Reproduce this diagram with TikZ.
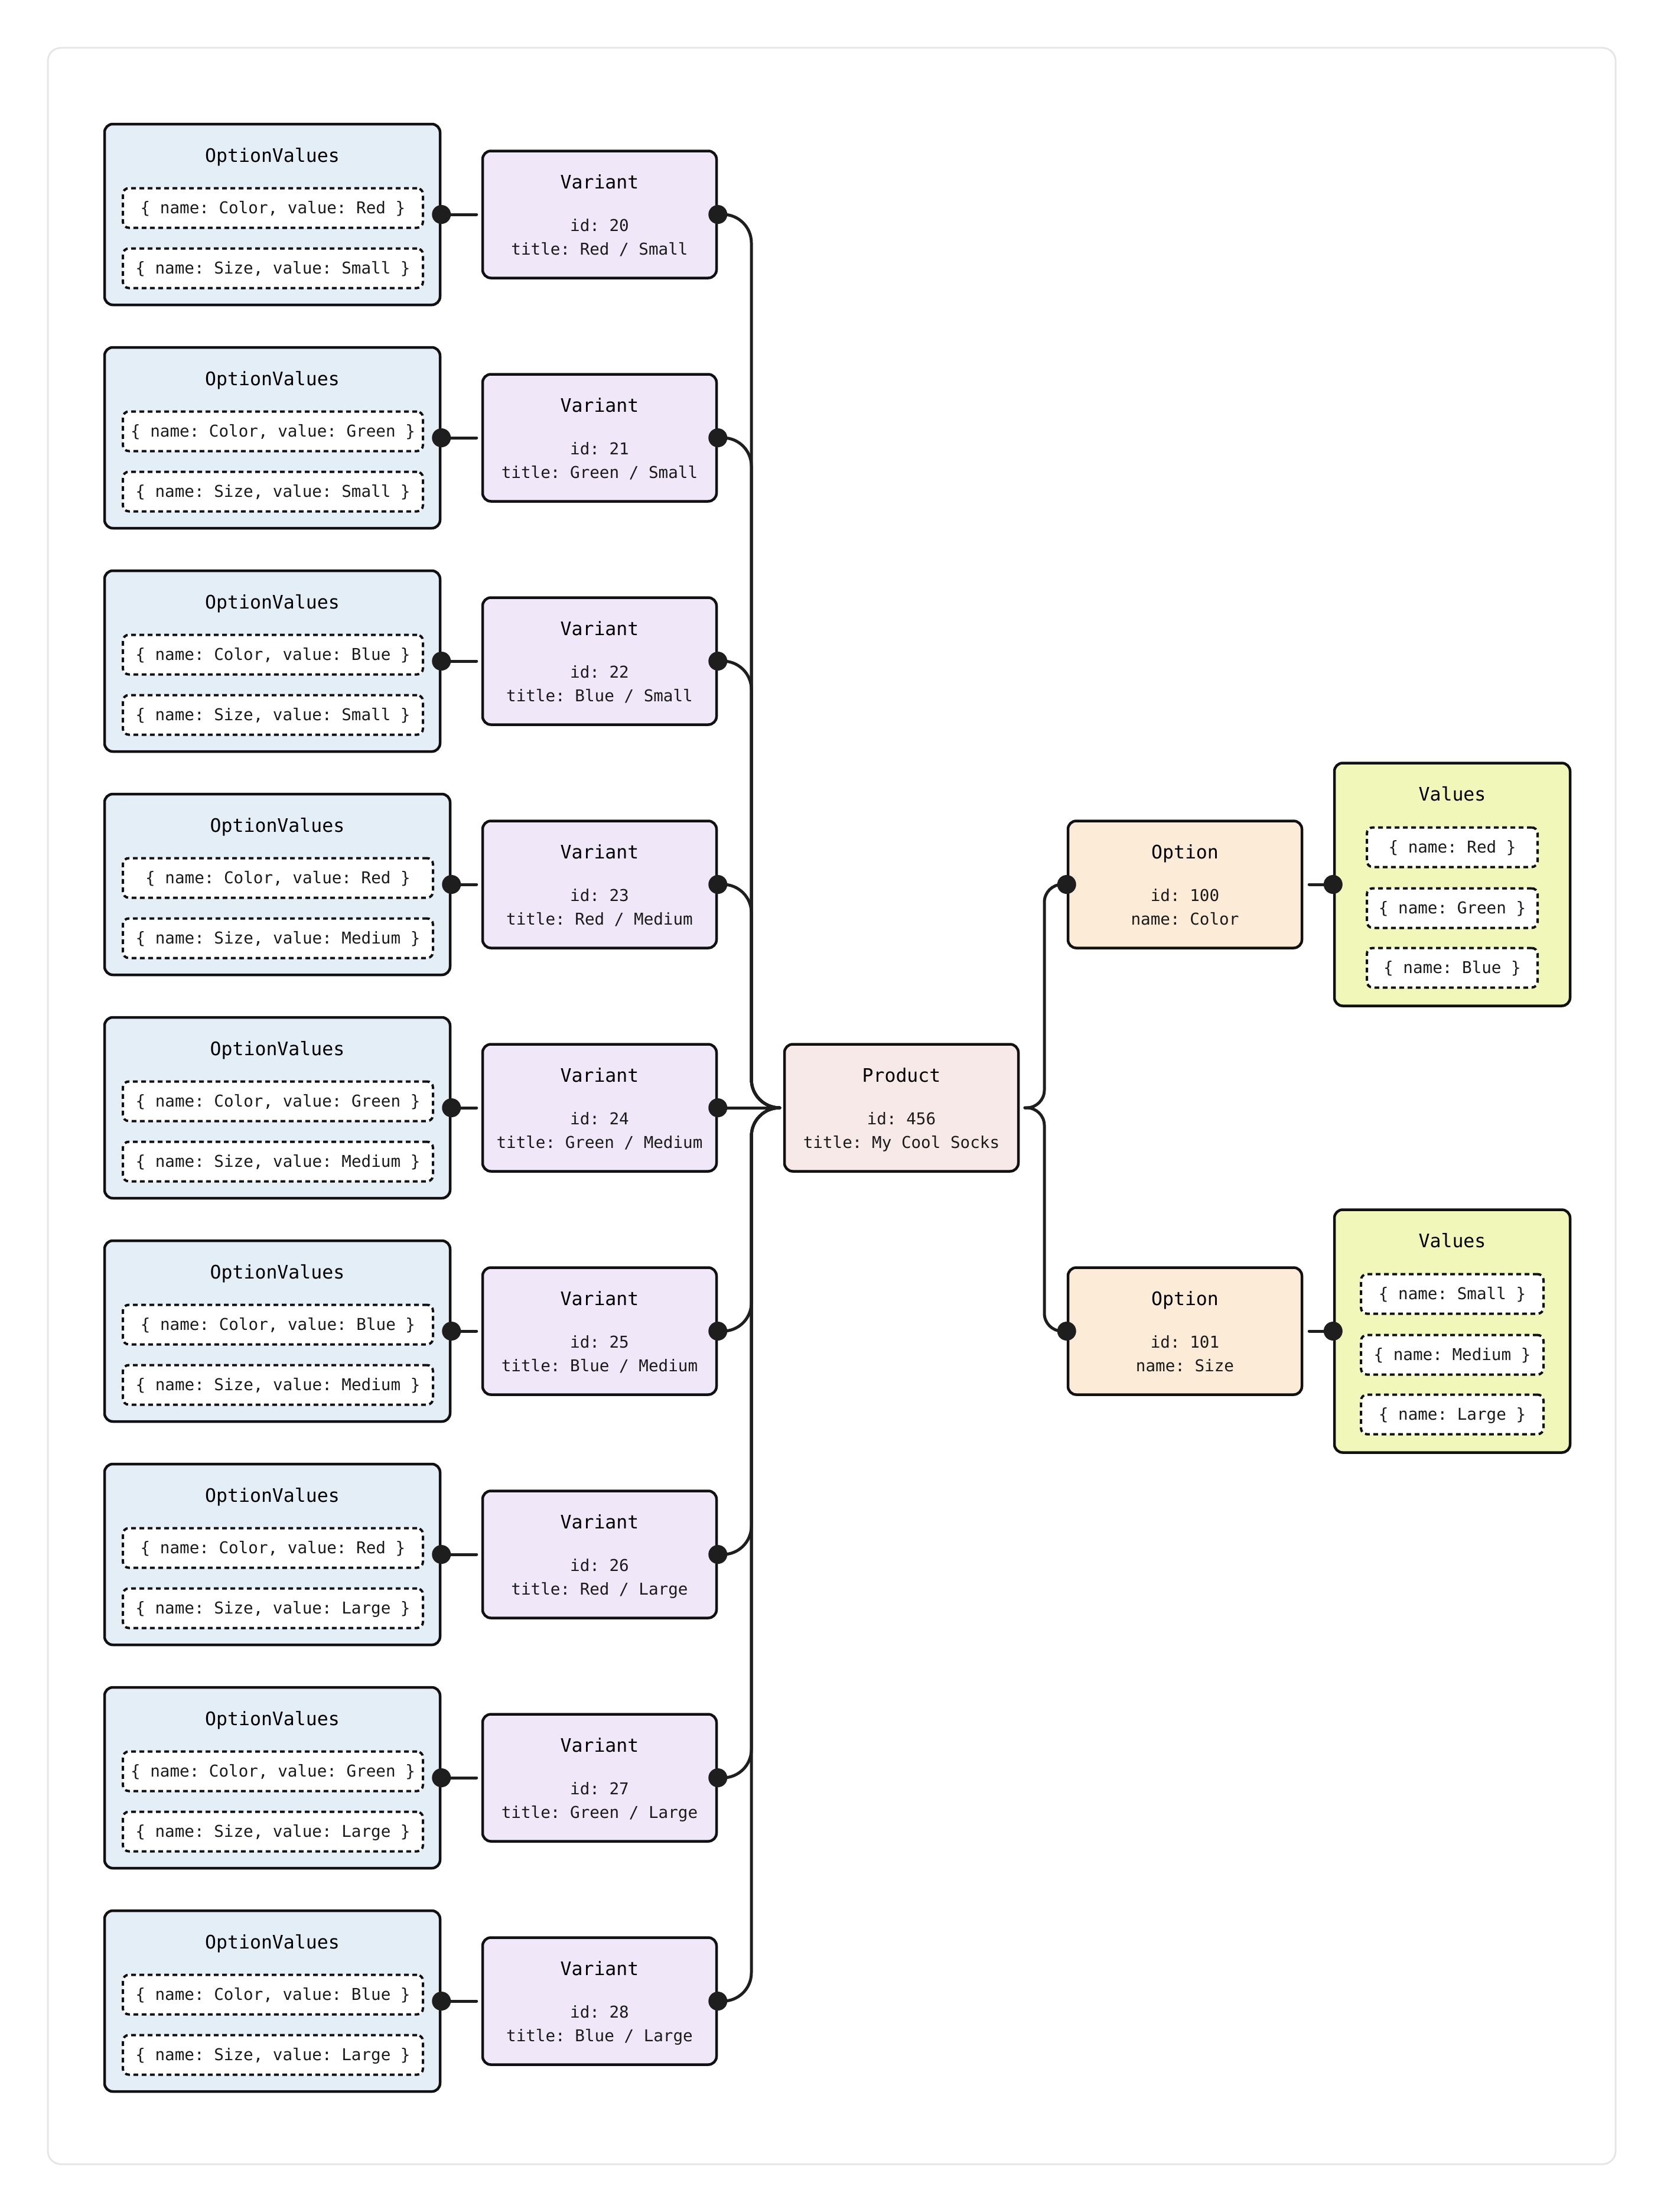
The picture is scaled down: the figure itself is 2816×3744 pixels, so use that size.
\documentclass[tikz,border=0pt]{standalone}
\usepackage{fontspec}
\newfontfamily\monofont{DejaVu Sans Mono}
\definecolor{framecol}{HTML}{E6E6E6}
\definecolor{boxline}{HTML}{111111}
\definecolor{linecol}{HTML}{1E1E1E}
\definecolor{textcol}{HTML}{1A1A1A}
\definecolor{ovfill}{HTML}{E4EEF7}
\definecolor{varfill}{HTML}{F0E8F8}
\definecolor{prodfill}{HTML}{F8E9E9}
\definecolor{optfill}{HTML}{FCEBD7}
\definecolor{valfill}{HTML}{F1F7B8}
\frenchspacing
\begin{document}
\begin{tikzpicture}[x=1pt,y=-1pt,
  box/.style={draw=boxline, line width=4.5pt, rounded corners=14pt, inner sep=0pt},
  ovbox/.style={box, fill=ovfill, minimum height=306pt},
  varbox/.style={box, fill=varfill, minimum width=396pt, minimum height=215pt},
  prodbox/.style={box, fill=prodfill, minimum width=396pt, minimum height=215pt},
  optbox/.style={box, fill=optfill, minimum width=396pt, minimum height=215pt},
  valbox/.style={box, fill=valfill, minimum width=399pt, minimum height=411pt},
  innerbox/.style={draw=boxline, fill=white, line width=4pt, dash pattern=on 8pt off 6pt,
    rounded corners=10pt, inner sep=0pt, minimum height=67pt, text=textcol,
    font=\monofont\frenchspacing\fontsize{27.6}{33}\selectfont, text height=19.9pt, text depth=0pt},
  ttl/.style={font=\monofont\frenchspacing\fontsize{31.5}{36}\selectfont, text=black, inner sep=0pt,
    text height=22.7pt, text depth=0pt},
  txt/.style={font=\monofont\frenchspacing\fontsize{27.6}{33}\selectfont, text=textcol, inner sep=0pt,
    text height=19.9pt, text depth=0pt},
  conn/.style={draw=linecol, line width=5pt, line cap=round},
  dotc/.style={fill=linecol}
]
\useasboundingbox (0,0) rectangle (2816,3744);
\draw[framecol, line width=3pt, rounded corners=22pt] (81,81) rectangle (2735,3663);

% centre column coordinates
\coordinate (tL) at (1272,1875);
\coordinate (pL) at (1320,1875);
\coordinate (pR) at (1735,1875);
\coordinate (tR) at (1768,1875);

% Product
\node[prodbox] (prod) at (1526,1875) {};
\node[ttl] (prodt) at (1526,1820) {Product};
\node[txt] (prodid) at (1526,1894) {id: 456};
\node[txt] (prodti) at (1526,1934) {title: My Cool Socks};

% Rows
\foreach \i/\vid/\col/\sz/\ovw/\inw in {
  1/20/Red/Small/568/508, 2/21/Green/Small/568/508, 3/22/Blue/Small/568/508,
  4/23/Red/Medium/585/525, 5/24/Green/Medium/585/525, 6/25/Blue/Medium/585/525,
  7/26/Red/Large/568/508, 8/27/Green/Large/568/508, 9/28/Blue/Large/568/508} {
  \pgfmathsetmacro\cy{363+378*(\i-1)}
  \pgfmathsetmacro\ovx{177+\ovw/2}
  \pgfmathsetmacro\inx{208+\inw/2}
  \node[ovbox, minimum width=\ovw pt] (ov\i) at (\ovx,\cy) {};
  \node[ttl] (ovt\i) at (\ovx,\cy-100) {OptionValues};
  \node[innerbox, minimum width=\inw pt] (ova\i) at (\inx,\cy-11) {\{ name: Color, value: \col{} \}};
  \node[innerbox, minimum width=\inw pt] (ovb\i) at (\inx,\cy+91) {\{ name: Size, value: \sz{} \}};
  \node[varbox] (v\i) at (1015,\cy) {};
  \node[ttl] (vt\i) at (1015,\cy-55) {Variant};
  \node[txt] (vid\i) at (1015,\cy+19) {id: \vid};
  \node[txt] (vti\i) at (1015,\cy+59) {title: \col{} / \sz};
  \draw[conn] (ov\i.east) -- ([xshift=-8pt]v\i.west);
  \ifnum\i=5
    \draw[conn] (v\i.east) -- (pL);
  \else
    \draw[conn, rounded corners=48pt] (v\i.east) -- (v\i.east -| tL) -- (tL) -- (pL);
  \fi
  \fill[dotc] (ov\i.east) circle[radius=16pt];
  \fill[dotc] (v\i.east) circle[radius=16pt];
}

% Options
\node[optbox] (o1) at (2006,1497) {};
\node[ttl] (o1t) at (2006,1442) {Option};
\node[txt] (o1id) at (2006,1516) {id: 100};
\node[txt] (o1n) at (2006,1556) {name: Color};
\node[optbox] (o2) at (2006,2253) {};
\node[ttl] (o2t) at (2006,2198) {Option};
\node[txt] (o2id) at (2006,2272) {id: 101};
\node[txt] (o2n) at (2006,2312) {name: Size};

% Values
\node[valbox] (val1) at (2458.5,1497) {};
\node[ttl] (val1t) at (2458.5,1344) {Values};
\node[innerbox, minimum width=289pt] (val1a) at (2458.5,1434) {\{ name: Red \}};
\node[innerbox, minimum width=289pt] (val1b) at (2458.5,1537) {\{ name: Green \}};
\node[innerbox, minimum width=289pt] (val1c) at (2458.5,1638) {\{ name: Blue \}};
\node[valbox] (val2) at (2458.5,2253) {};
\node[ttl] (val2t) at (2458.5,2100) {Values};
\node[innerbox, minimum width=309pt] (val2a) at (2458.5,2190) {\{ name: Small \}};
\node[innerbox, minimum width=309pt] (val2b) at (2458.5,2293) {\{ name: Medium \}};
\node[innerbox, minimum width=309pt] (val2c) at (2458.5,2394) {\{ name: Large \}};

% Product -> Options
\draw[conn, rounded corners=30pt] (pR) -- (tR) -- (tR |- o1.west) -- (o1.west);
\draw[conn, rounded corners=30pt] (pR) -- (tR) -- (tR |- o2.west) -- (o2.west);
\draw[conn] ([xshift=10pt]o1.east) -- (val1.west);
\draw[conn] ([xshift=10pt]o2.east) -- (val2.west);
\fill[dotc] (o1.west) circle[radius=16pt];
\fill[dotc] (o2.west) circle[radius=16pt];
\fill[dotc] (val1.west) circle[radius=16pt];
\fill[dotc] (val2.west) circle[radius=16pt];
\end{tikzpicture}
\end{document}
